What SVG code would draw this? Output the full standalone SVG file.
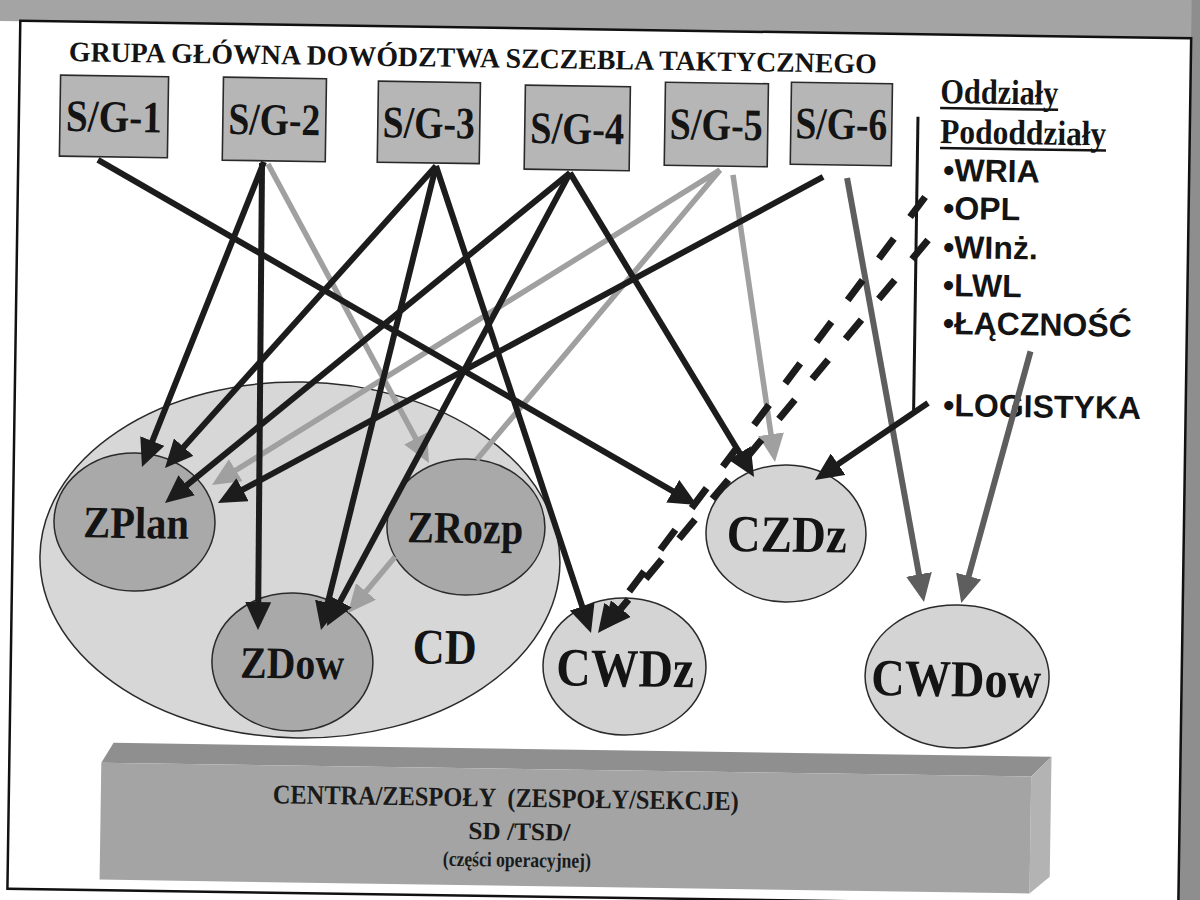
<svg xmlns="http://www.w3.org/2000/svg" width="1200" height="900" viewBox="0 0 1200 900">
<style>
.sgbox{fill:#b6b6b6;stroke:#2a2a2a;stroke-width:1.6}
.sg{font-family:"Liberation Serif","Times New Roman",serif;font-weight:bold;font-size:45px;fill:#141414;text-anchor:middle}
.lbl{font-family:"Liberation Serif","Times New Roman",serif;font-weight:bold;fill:#141414;text-anchor:middle}
.big{fill:#d7d7d7;stroke:#2a2a2a;stroke-width:1.5}
.inner{fill:#a9a9a9;stroke:#2a2a2a;stroke-width:1.5}
.light{fill:#d4d4d4;stroke:#2a2a2a;stroke-width:1.5}
.hdr{font-family:"Liberation Serif","Times New Roman",serif;font-weight:bold;font-size:35px;fill:#141414}
.item{font-family:"Liberation Sans",Arial,sans-serif;font-weight:bold;font-size:32px;fill:#141414}
.bt{font-family:"Liberation Serif","Times New Roman",serif;font-weight:bold;fill:#1a1a1a;text-anchor:middle}
.cb{fill:none;stroke:#1c1c1c;stroke-width:6;marker-end:url(#mB)}
.cg{fill:none;stroke:#a0a0a0;stroke-width:5.5;marker-end:url(#mG)}
.cd{fill:none;stroke:#5e5e5e;stroke-width:6;marker-end:url(#mD)}
.cdash{fill:none;stroke:#1c1c1c;stroke-width:7;stroke-dasharray:25 27;marker-end:url(#mB)}
</style>
<defs>
<marker id="mB" markerUnits="userSpaceOnUse" viewBox="0 0 28 26" markerWidth="28" markerHeight="26" refX="10" refY="13" orient="auto"><path d="M0,0 L28,13 L0,26 z" fill="#1c1c1c"/></marker>
<marker id="mG" markerUnits="userSpaceOnUse" viewBox="0 0 28 26" markerWidth="28" markerHeight="26" refX="10" refY="13" orient="auto"><path d="M0,0 L28,13 L0,26 z" fill="#a0a0a0"/></marker>
<marker id="mD" markerUnits="userSpaceOnUse" viewBox="0 0 28 26" markerWidth="28" markerHeight="26" refX="10" refY="13" orient="auto"><path d="M0,0 L28,13 L0,26 z" fill="#5e5e5e"/></marker>
</defs>
<rect x="0" y="0" width="1200" height="900" fill="#ffffff"/>
<g transform="rotate(0.85 600 450)">
  <g id="frame">
    <rect x="-40" y="-60" width="1360" height="90" fill="#a4a4a4"/>
    <rect x="1185" y="-60" width="120" height="1060" fill="#8e8e8e"/>
    <rect x="14" y="29.5" width="1171" height="868" fill="#ffffff" stroke="#111" stroke-width="2.5"/>
  </g>
  <g id="title">
    <text x="63" y="69" font-family="Liberation Serif, Times New Roman, serif" font-weight="bold" font-size="28" fill="#141414" textLength="808" lengthAdjust="spacingAndGlyphs">GRUPA GŁÓWNA DOWÓDZTWA SZCZEBLA TAKTYCZNEGO</text>
  </g>
  <g id="cd">
    <ellipse cx="301.6" cy="564.4" rx="260" ry="178" class="big"/>
    <text x="447.7" y="666" class="lbl" font-size="50" textLength="64" lengthAdjust="spacingAndGlyphs">CD</text>
  </g>
  <g id="zplan">
    <ellipse cx="135.6" cy="528.9" rx="80.5" ry="69" class="inner"/>
    <text x="137.3" y="545" class="lbl" font-size="45" textLength="106" lengthAdjust="spacingAndGlyphs">ZPlan</text>
  </g>
  <g id="zrozp">
    <ellipse cx="467.1" cy="529" rx="79" ry="68" class="inner"/>
    <text x="466.4" y="545" class="lbl" font-size="45" textLength="116" lengthAdjust="spacingAndGlyphs">ZRozp</text>
  </g>
  <g id="zdow">
    <ellipse cx="295.6" cy="666.6" rx="80.5" ry="69" class="inner"/>
    <text x="295.4" y="683" class="lbl" font-size="45" textLength="104" lengthAdjust="spacingAndGlyphs">ZDow</text>
  </g>
  <g id="cwdz">
    <ellipse cx="627.7" cy="666.1" rx="81.5" ry="68.5" class="light"/>
    <text x="628.5" y="686" class="lbl" font-size="54" textLength="138" lengthAdjust="spacingAndGlyphs">CWDz</text>
  </g>
  <g id="czdz">
    <ellipse cx="787.2" cy="530.7" rx="80" ry="68.5" class="light"/>
    <text x="788" y="549" class="lbl" font-size="52" textLength="120" lengthAdjust="spacingAndGlyphs">CZDz</text>
  </g>
  <g id="cwdow">
    <ellipse cx="960.4" cy="671.2" rx="92" ry="71.5" class="light"/>
    <text x="959.6" y="691" class="lbl" font-size="52" textLength="170" lengthAdjust="spacingAndGlyphs">CWDow</text>
  </g>
  <g id="centra">
    <polygon points="106,770 118,750 1056,750 1036,770" fill="#8f8f8f"/>
    <polygon points="1036,770 1056,750 1056,870 1036,887" fill="#b3b3b3"/>
    <rect x="106" y="770" width="930" height="117" fill="#a4a4a4"/>
    <text x="511" y="808" class="bt" font-size="27" style="white-space:pre" textLength="466" lengthAdjust="spacingAndGlyphs">CENTRA/ZESPOŁY  (ZESPOŁY/SEKCJE)</text>
    <text x="525" y="841" class="bt" font-size="25" textLength="102" lengthAdjust="spacingAndGlyphs">SD /TSD/</text>
    <text x="523" y="868" class="bt" font-size="21" textLength="148" lengthAdjust="spacingAndGlyphs">(części operacyjnej)</text>
  </g>
  <g id="sg1"><rect x="55.1" y="83.2" width="108" height="81" class="sgbox"/><text x="109.1" y="139" class="sg" textLength="96" lengthAdjust="spacingAndGlyphs">S/G-1</text></g>
  <g id="sg2"><rect x="218" y="82.8" width="103" height="83" class="sgbox"/><text x="269.5" y="139.5" class="sg" textLength="92" lengthAdjust="spacingAndGlyphs">S/G-2</text></g>
  <g id="sg3"><rect x="373" y="84.5" width="102" height="81" class="sgbox"/><text x="424" y="140.5" class="sg" textLength="92" lengthAdjust="spacingAndGlyphs">S/G-3</text></g>
  <g id="sg4"><rect x="520" y="86.3" width="105" height="84" class="sgbox"/><text x="572.5" y="144" class="sg" textLength="94" lengthAdjust="spacingAndGlyphs">S/G-4</text></g>
  <g id="sg5"><rect x="660" y="81.3" width="103" height="83" class="sgbox"/><text x="711.5" y="138" class="sg" textLength="93" lengthAdjust="spacingAndGlyphs">S/G-5</text></g>
  <g id="sg6"><rect x="786" y="79.4" width="101" height="82" class="sgbox"/><text x="836.5" y="135.5" class="sg" textLength="92" lengthAdjust="spacingAndGlyphs">S/G-6</text></g>
  <g id="units">
    <text x="935" y="98" class="hdr" textLength="118" lengthAdjust="spacingAndGlyphs">Oddziały</text>
    <line x1="935" y1="103" x2="1053" y2="103" stroke="#141414" stroke-width="2.5"/>
    <text x="935.5" y="138" class="hdr" textLength="166" lengthAdjust="spacingAndGlyphs">Pododdziały</text>
    <line x1="935.5" y1="143" x2="1101.5" y2="143" stroke="#141414" stroke-width="2.5"/>
    <text x="939" y="176" class="item">•WRIA</text>
    <text x="939.5" y="214" class="item">•OPL</text>
    <text x="940" y="253" class="item">•WInż.</text>
    <text x="940.5" y="291" class="item">•LWL</text>
    <text x="941" y="329" class="item">•ŁĄCZNOŚĆ</text>
    <text x="942.5" y="411" class="item">•LOGISTYKA</text>
    <line x1="913" y1="112" x2="913" y2="410" stroke="#141414" stroke-width="3"/>
  </g>
  <g id="connectors">
    <path class="cg" d="M715.9,168.2 L227.7,481"/>
    <path class="cg" d="M715.9,168.2 L476.8,461.6 M396.7,559.8 L361.8,602.7"/>
    <path class="cg" d="M728.9,173 L772.3,441.6"/>
    <path class="cg" d="M263.8,168.9 L420.4,449.8"/>
    <path class="cb" d="M93.7,167.4 L682.1,494.9"/>
    <path class="cb" d="M259.7,167 L148.7,457"/>
    <path class="cb" d="M257.8,168 L260.6,617.1"/>
    <path class="cb" d="M431.8,168.4 L177.1,460.8"/>
    <path class="cb" d="M431.8,168.4 L327.8,616.6"/>
    <path class="cb" d="M431.8,168.4 L587.8,616.1"/>
    <path class="cb" d="M565.9,173.4 L179.6,497.8"/>
    <path class="cb" d="M565.9,173.4 L337.9,614"/>
    <path class="cb" d="M565.9,173.4 L744.9,459.4"/>
    <path class="cb" d="M819,173.7 L234.5,499.9"/>
    <path class="cd" d="M843,174.3 L922.7,579.5"/>
    <path class="cd" d="M1029,345 L968,580.3"/>
    <path class="cb" d="M927.3,398.2 L830.1,466.4"/>
    <path class="cdash" d="M921.3,192.2 L611.3,618.4"/>
    <path class="cdash" d="M924.9,235.1 L617,616"/>
  </g>
</g>
</svg>
